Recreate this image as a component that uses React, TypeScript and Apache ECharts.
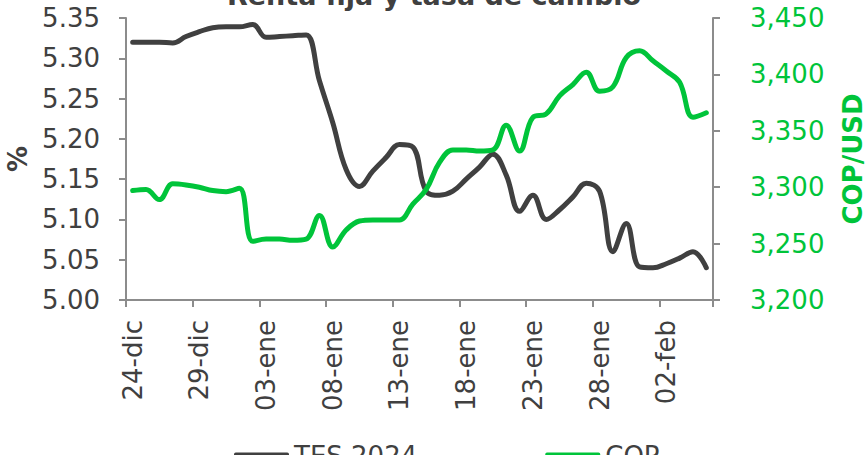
import React, { useEffect, useRef } from "react";
import * as echarts from "echarts";

const categories = [
  "24-dic", "25-dic", "26-dic", "27-dic", "28-dic", "29-dic", "30-dic", "31-dic",
  "01-ene", "02-ene", "03-ene", "04-ene", "05-ene", "06-ene", "07-ene", "08-ene",
  "09-ene", "10-ene", "11-ene", "12-ene", "13-ene", "14-ene", "15-ene", "16-ene",
  "17-ene", "18-ene", "19-ene", "20-ene", "21-ene", "22-ene", "23-ene", "24-ene",
  "25-ene", "26-ene", "27-ene", "28-ene", "29-ene", "30-ene", "31-ene", "01-feb",
  "02-feb", "03-feb", "04-feb", "05-feb",
];

const tes2024 = [
  5.320, 5.320, 5.320, 5.319, 5.327, 5.333, 5.338, 5.339, 5.339, 5.342,
  5.326, 5.327, 5.328, 5.329, 5.272, 5.220, 5.162, 5.141, 5.160, 5.177,
  5.193, 5.190, 5.135, 5.130, 5.135, 5.150, 5.165, 5.181, 5.155, 5.110,
  5.130, 5.100, 5.112, 5.128, 5.145, 5.135, 5.060, 5.095, 5.041, 5.040,
  5.045, 5.052, 5.060, 5.040,
];

const cop = [
  3297, 3298, 3289, 3303, 3302, 3300, 3297, 3296, 3299, 3252,
  3254, 3254, 3253, 3254, 3275, 3247, 3262, 3270, 3271, 3271,
  3271, 3285, 3298, 3322, 3333, 3333, 3332, 3333, 3355, 3332,
  3362, 3365, 3381, 3391, 3402, 3385, 3389, 3415, 3421, 3412,
  3403, 3393, 3362, 3366,
];

const DARK = "#404040";
const GREEN = "#00C43A";
const AXIS = "#8c8c8c";
const FONT = "DejaVu Sans";

export default function App() {
  const ref = useRef<HTMLDivElement>(null);
  useEffect(() => {
    if (!ref.current) return;
    const chart = echarts.init(ref.current, null, { renderer: "svg" });
    chart.setOption({
      animation: false,
      title: {
        text: "Renta fija y tasa de cambio",
        left: "center",
        top: -23,
        textStyle: { fontFamily: FONT, fontSize: 27, fontWeight: "bold", color: DARK },
      },
      grid: {
        left: 126,
        right: 155,
        top: 18,
        bottom: 155,
        containLabel: false,
        outerBoundsMode: "none",
      },
      legend: {
        left: 229,
        top: 438,
        itemGap: 128,
        itemWidth: 55,
        itemHeight: 7,
        icon: "roundRect",
        textStyle: { fontFamily: FONT, fontSize: 26, color: DARK },
        data: ["TES 2024", "COP"],
      },
      xAxis: {
        type: "category",
        data: categories,
        boundaryGap: true,
        axisLine: { lineStyle: { color: AXIS, width: 2 } },
        axisTick: { show: true, interval: 4, length: 7, lineStyle: { color: AXIS, width: 2 } },
        axisLabel: {
          interval: 4,
          rotate: 90,
          margin: 20,
          fontFamily: FONT,
          fontSize: 26,
          color: DARK,
        },
      },
      yAxis: [
        {
          type: "value",
          min: 5.0,
          max: 5.35,
          interval: 0.05,
          name: "%",
          nameLocation: "middle",
          nameRotate: 90,
          nameGap: 94,
          nameTextStyle: { fontFamily: FONT, fontSize: 26, fontWeight: "bold", color: DARK },
          splitLine: { show: false },
          axisLine: { show: true, lineStyle: { color: AXIS, width: 2 } },
          axisTick: { show: true, length: 7, lineStyle: { color: AXIS, width: 2 } },
          axisLabel: {
            margin: 26,
            fontFamily: FONT,
            fontSize: 26,
            color: DARK,
            formatter: (v: number) => v.toFixed(2),
          },
        },
        {
          type: "value",
          min: 3200,
          max: 3450,
          interval: 50,
          name: "COP/USD",
          nameLocation: "middle",
          nameRotate: 90,
          nameGap: 127,
          nameTextStyle: { fontFamily: FONT, fontSize: 26, fontWeight: "bold", color: GREEN },
          splitLine: { show: false },
          axisLine: { show: true, lineStyle: { color: AXIS, width: 2 } },
          axisTick: { show: true, length: 7, lineStyle: { color: AXIS, width: 2 } },
          axisLabel: {
            margin: 37,
            fontFamily: FONT,
            fontSize: 26,
            color: GREEN,
            formatter: (v: number) => v.toLocaleString("en-US"),
          },
        },
      ],
      series: [
        {
          name: "TES 2024",
          type: "line",
          yAxisIndex: 0,
          data: tes2024,
          smooth: 0.4,
          showSymbol: false,
          symbol: "none",
          lineStyle: { color: DARK, width: 5, cap: "round", join: "round" },
          itemStyle: { color: DARK },
        },
        {
          name: "COP",
          type: "line",
          yAxisIndex: 1,
          data: cop,
          smooth: 0.4,
          showSymbol: false,
          symbol: "none",
          lineStyle: { color: GREEN, width: 5, cap: "round", join: "round" },
          itemStyle: { color: GREEN },
        },
      ],
    });
    return () => chart.dispose();
  }, []);
  return (
    <div
      ref={ref}
      style={{ position: "absolute", left: 0, top: 0, width: 868, height: 455 }}
    />
  );
}
